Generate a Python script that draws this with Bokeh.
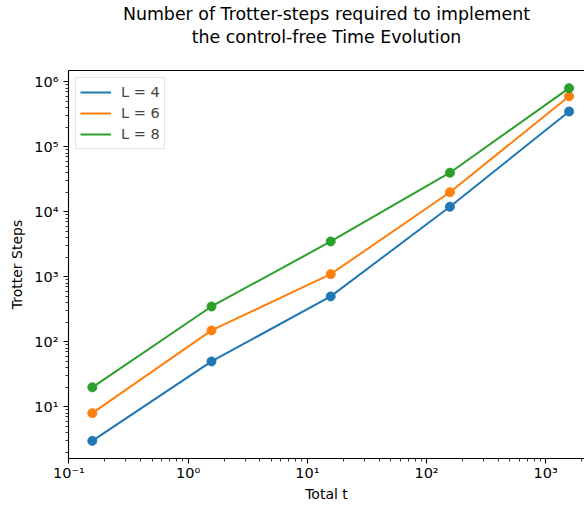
import numpy as np
from bokeh.plotting import figure
from bokeh.models import Range1d, FixedTicker, LogAxis, Title, Legend, LegendItem
from bokeh.embed import file_html
from bokeh.resources import INLINE

# ---- data ----
total_t = [0.157, 1.57, 15.7, 157, 1570]
steps_L4 = [3, 50, 500, 12000, 350000]
steps_L6 = [8, 150, 1100, 20000, 600000]
steps_L8 = [20, 350, 3500, 40000, 800000]
series_labels = ["L = 4", "L = 6", "L = 8"]
series_colors = ["#1f77b4", "#ff7f0e", "#2ca02c"]

x_major = [0.1, 1, 10, 100, 1000]
x_major_labels = ["10\u207b\u00b9", "10\u2070", "10\u00b9", "10\u00b2", "10\u00b3"]
y_major = [10, 100, 1000, 10000, 100000, 1000000]
y_major_labels = ["10\u00b9", "10\u00b2", "10\u00b3", "10\u2074", "10\u2075", "10\u2076"]

title_line1 = "Number of Trotter-steps required to implement"
title_line2 = "the control-free Time Evolution"
x_label = "Total t"
y_label = "Trotter Steps"

FONT = "DejaVu Sans"

p = figure(width=584, height=508, x_axis_type="log", y_axis_type="log",
           x_range=Range1d(0.0991, 2114), y_range=Range1d(1.606, 1.494e6),
           output_backend="svg", toolbar_location=None,
           min_border_left=68, min_border_right=0, min_border_top=68, min_border_bottom=50)
p.outline_line_color = None
p.grid.visible = False
p.background_fill_color = "white"
p.border_fill_color = "white"

def minor_ticks(lo_exp, hi_exp):
    return [m * 10.0 ** e for e in range(lo_exp, hi_exp + 1) for m in range(2, 10)]

p.xaxis.ticker = FixedTicker(ticks=x_major, minor_ticks=minor_ticks(-2, 3))
p.yaxis.ticker = FixedTicker(ticks=y_major, minor_ticks=minor_ticks(0, 6))
p.xaxis.major_label_overrides = {v: s for v, s in zip(x_major, x_major_labels)}
p.yaxis.major_label_overrides = {v: s for v, s in zip(y_major, y_major_labels)}

for ax in (p.xaxis, p.yaxis):
    ax.axis_line_color = "black"
    ax.axis_line_width = 1.1
    ax.major_tick_line_color = "black"
    ax.major_tick_line_width = 1.1
    ax.minor_tick_line_color = "black"
    ax.minor_tick_line_width = 0.8
    ax.major_tick_in = 0
    ax.major_tick_out = 5
    ax.minor_tick_in = 0
    ax.minor_tick_out = 3
    ax.major_label_text_font = FONT
    ax.major_label_text_font_size = "14.5px"
    ax.major_label_text_color = "black"
    ax.axis_label_text_font = FONT
    ax.axis_label_text_font_size = "14px"
    ax.axis_label_text_font_style = "normal"
    ax.axis_label_text_color = "black"

p.xaxis.major_label_standoff = 1
p.yaxis.major_label_standoff = 5
p.xaxis.axis_label = x_label
p.yaxis.axis_label = y_label
p.xaxis.axis_label_standoff = 2
p.yaxis.axis_label_standoff = 6
p.yaxis.major_label_orientation = "horizontal"

# top spine only
top = LogAxis(major_tick_out=0, major_tick_in=0, minor_tick_out=0, minor_tick_in=0,
              major_tick_line_color=None, minor_tick_line_color=None,
              major_label_text_font_size="0px", major_label_standoff=0,
              axis_line_color="black", axis_line_width=1.1,
              ticker=FixedTicker(ticks=[]))
p.add_layout(top, "above")

t2 = Title(text=title_line2, align="center", text_font=FONT, text_font_size="17.4px",
           text_font_style="normal", text_color="black", standoff=48)
t1 = Title(text=title_line1, align="center", text_font=FONT, text_font_size="17.4px",
           text_font_style="normal", text_color="black", standoff=-46)
p.add_layout(t2, "above")
p.add_layout(t1, "above")

items = []
for ys, lab, col in zip([steps_L4, steps_L6, steps_L8], series_labels, series_colors):
    r = p.line(total_t, ys, line_color=col, line_width=2)
    p.scatter(total_t, ys, size=9, fill_color=col, line_color=col, marker="circle")
    items.append(LegendItem(label=lab, renderers=[r]))

legend = Legend(items=items, location="top_left")
legend.margin = 7
legend.padding = 4
legend.spacing = 1
legend.glyph_width = 31
legend.glyph_height = 20
legend.label_height = 20
legend.label_standoff = 10
legend.label_text_font = FONT
legend.label_text_font_size = "14.5px"
legend.border_line_color = "#cccccc"
legend.border_line_width = 1
legend.background_fill_alpha = 0.8
p.add_layout(legend)

open("out.html", "w").write(file_html(p, INLINE))
